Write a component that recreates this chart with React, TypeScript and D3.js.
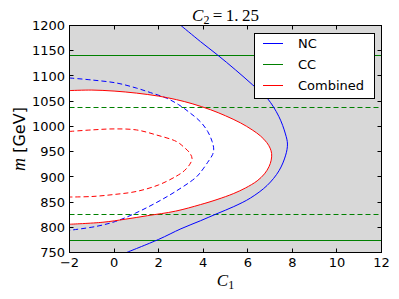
import React from "react";
import * as d3 from "d3";

const C1_TICKS = [-2, 0, 2, 4, 6, 8, 10, 12];
const M_TICKS = [750, 800, 850, 900, 950, 1000, 1050, 1100, 1150, 1200];

// Combined (red) contours: [C1, m]
const combinedSolid: [number, number][] = [
  [-2, 1071], [-1, 1072], [0, 1070], [1, 1066], [2, 1060], [2.8, 1053], [3.5, 1045],
  [4.33, 1033], [5, 1021], [5.67, 1007], [6.2, 993], [6.57, 981], [6.85, 968],
  [7.0, 957], [7.07, 946], [7.05, 933], [6.95, 920], [6.75, 906], [6.42, 892],
  [5.9, 878], [5.37, 867], [4.62, 855], [3.88, 845], [2.76, 832], [1.5, 823],
  [0.5, 816], [-0.5, 810], [-2, 806],
];
const combinedDashed: [number, number][] = [
  [-2, 990], [-1, 993], [0, 995], [1, 993], [1.9, 983], [2.8, 970], [3.13, 959],
  [3.4, 947], [3.5, 936], [3.4, 925], [3.15, 912], [2.78, 901], [2.0, 884],
  [1.0, 871], [0, 865], [-1, 861], [-2, 860],
];
// NC (blue) contours
const ncSolid: [number, number][] = [
  [3.0, 1200], [3.88, 1168], [4.63, 1142], [5.45, 1112], [6.2, 1083], [6.87, 1056],
  [7.39, 1020], [7.69, 985], [7.78, 965], [7.7, 943], [7.4, 912], [6.87, 883],
  [6.12, 858], [5.37, 841], [4.62, 827], [3.88, 813], [3.0, 797], [2.0, 776],
  [0.56, 750],
];
const ncDashed: [number, number][] = [
  [-2, 1096], [-1, 1092], [0.11, 1086], [1.0, 1076], [1.63, 1067], [2.35, 1056],
  [2.9, 1043], [3.4, 1027], [3.88, 1009], [4.2, 990], [4.4, 970], [4.47, 955],
  [4.42, 944], [4.25, 932], [3.88, 909], [3.65, 898], [2.76, 871], [1.86, 848],
  [0.96, 828], [0.06, 811.5], [-0.83, 801.5], [-2, 794],
];
// CC (green) horizontal bounds
const ccSolid = [773, 1141.5];
const ccDashed = [826, 1036.5];

const LEGEND = [
  { label: "NC", color: "#0000ff" },
  { label: "CC", color: "#008000" },
  { label: "Combined", color: "#ff0000" },
];

const W = 399;
const H = 299;
const X0 = 69.5, X1 = 381.5, Y0 = 25.5, Y1 = 252.5;

export default function App() {
  const x = d3.scaleLinear().domain([-2, 12]).range([X0, X1]);
  const y = d3.scaleLinear().domain([750, 1200]).range([Y1, Y0]);
  const snap = (v: number) => Math.round(v - 0.5) + 0.5;
  const line = d3
    .line<[number, number]>()
    .x((d) => x(d[0]))
    .y((d) => y(d[1]))
    .curve(d3.curveCatmullRom.alpha(0.5));

  const dash = "5,3";
  const tickLen = 4;
  const sans = "DejaVu Sans, sans-serif";
  const serif = "Liberation Serif, serif";

  return (
    <svg
      width={W}
      height={H}
      style={{ position: "absolute", left: 0, top: 0, background: "#fff" }}
    >
      <defs>
        <clipPath id="plot">
          <rect x={X0} y={Y0} width={X1 - X0} height={Y1 - Y0} />
        </clipPath>
      </defs>
      <rect x={X0} y={Y0} width={X1 - X0} height={Y1 - Y0} fill="#d8d8d8" />
      <g clipPath="url(#plot)">
        <path d={(line(combinedSolid) || "") + "Z"} fill="#ffffff" stroke="none" />
        {ccSolid.map((v, i) => (
          <line key={"cs" + i} x1={X0} x2={X1} y1={snap(y(v))} y2={snap(y(v))} stroke="#008000" strokeWidth={1} />
        ))}
        {ccDashed.map((v, i) => (
          <line key={"cd" + i} x1={X0} x2={X1} y1={snap(y(v))} y2={snap(y(v))} stroke="#008000" strokeWidth={1} strokeDasharray={dash} />
        ))}
        <path d={line(ncSolid) || ""} fill="none" stroke="#0000ff" strokeWidth={1} />
        <path d={line(ncDashed) || ""} fill="none" stroke="#0000ff" strokeWidth={1} strokeDasharray={dash} />
        <path d={line(combinedSolid) || ""} fill="none" stroke="#ff0000" strokeWidth={1} />
        <path d={line(combinedDashed) || ""} fill="none" stroke="#ff0000" strokeWidth={1} strokeDasharray={dash} />
      </g>
      {/* ticks */}
      {C1_TICKS.map((t) => (
        <g key={"xt" + t}>
          <line x1={snap(x(t))} x2={snap(x(t))} y1={Y1} y2={Y1 - tickLen} stroke="#000" />
          <line x1={snap(x(t))} x2={snap(x(t))} y1={Y0} y2={Y0 + tickLen} stroke="#000" />
          <text x={x(t)} y={267} textAnchor="middle" fontFamily={sans} fontSize={13}>
            {t < 0 ? "\u2212" + Math.abs(t) : String(t)}
          </text>
        </g>
      ))}
      {M_TICKS.map((t) => (
        <g key={"yt" + t}>
          <line x1={X0} x2={X0 + tickLen} y1={snap(y(t))} y2={snap(y(t))} stroke="#000" />
          <line x1={X1} x2={X1 - tickLen} y1={snap(y(t))} y2={snap(y(t))} stroke="#000" />
          <text x={65} y={y(t)} dy="0.36em" textAnchor="end" fontFamily={sans} fontSize={13}>
            {String(t)}
          </text>
        </g>
      ))}
      <rect x={X0} y={Y0} width={X1 - X0} height={Y1 - Y0} fill="none" stroke="#000" strokeWidth={1} />
      {/* legend */}
      <rect x={254.5} y={33.5} width={120} height={65} fill="#fff" stroke="#000" strokeWidth={1} />
      {LEGEND.map((e, i) => {
        const ly = 43.5 + i * 21;
        return (
          <g key={e.label}>
            <line x1={263} x2={283} y1={ly} y2={ly} stroke={e.color} strokeWidth={1} />
            <text x={298} y={ly} dy="0.36em" fontFamily={sans} fontSize={13}>
              {e.label}
            </text>
          </g>
        );
      })}
      {/* title */}
      <text x={(X0 + X1) / 2} y={21} textAnchor="middle" fontFamily={serif} fontSize={17}>
        <tspan fontStyle="italic">C</tspan>
        <tspan dy={3} fontSize={12}>2</tspan>
        <tspan dy={-3}>{"\u2009=\u20091.\u200925"}</tspan>
      </text>
      {/* x label */}
      <text x={(X0 + X1) / 2} y={286} textAnchor="middle" fontFamily={serif} fontSize={17}>
        <tspan fontStyle="italic">C</tspan>
        <tspan dy={3} fontSize={12}>1</tspan>
      </text>
      {/* y label */}
      <text
        transform={`translate(25,${(Y0 + Y1) / 2}) rotate(-90)`}
        textAnchor="middle"
        fontSize={16}
      >
        <tspan fontFamily={serif} fontStyle="italic" fontSize={18}>m</tspan>
        <tspan fontFamily={sans}>{" [GeV]"}</tspan>
      </text>
    </svg>
  );
}
